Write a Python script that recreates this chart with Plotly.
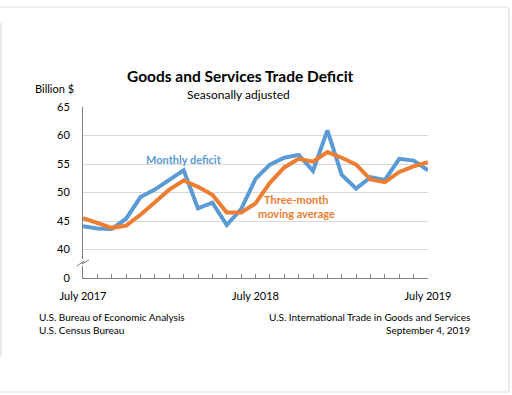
import plotly.graph_objects as go

months = ["Jul 2017","Aug 2017","Sep 2017","Oct 2017","Nov 2017","Dec 2017",
          "Jan 2018","Feb 2018","Mar 2018","Apr 2018","May 2018","Jun 2018",
          "Jul 2018","Aug 2018","Sep 2018","Oct 2018","Nov 2018","Dec 2018",
          "Jan 2019","Feb 2019","Mar 2019","Apr 2019","May 2019","Jun 2019","Jul 2019"]
monthly = [44.1, 43.7, 43.6, 45.4, 49.2, 50.5, 52.2, 53.9, 47.2, 48.2, 44.3, 47.1,
           52.4, 54.9, 56.1, 56.6, 53.8, 60.9, 53.1, 50.7, 52.7, 52.2, 55.9, 55.6, 53.9]
avg3 = [45.5, 44.7, 43.8, 44.2, 46.1, 48.3, 50.5, 52.1, 51.0, 49.6, 46.5, 46.5,
        48.1, 51.7, 54.4, 55.9, 55.4, 57.1, 56.1, 54.9, 52.3, 51.8, 53.6, 54.6, 55.3]
ytick_vals = [35, 40, 45, 50, 55, 60, 65]
ytick_text = ["0", "40", "45", "50", "55", "60", "65"]
xtick_text = ["July 2017" if m == "Jul 2017" else "July 2018" if m == "Jul 2018"
              else "July 2019" if m == "Jul 2019" else "" for m in months]

W, H = 512, 395
L, R, T, B = 83, 428, 107, 278
def px(x):
    return (x - L) / (R - L)
def py(y):
    return (B - y) / (B - T)

BLUE = "#5B9BD5"
ORANGE = "#ED7D31"
FONT = "Lato"

fig = go.Figure()
fig.add_trace(go.Scatter(x=months, y=monthly, mode="lines",
                         line=dict(color=BLUE, width=4), name="Monthly deficit"))
fig.add_trace(go.Scatter(x=months, y=avg3, mode="lines",
                         line=dict(color=ORANGE, width=4), name="Three-month moving average"))

fig.update_layout(
    width=W, height=H,
    margin=dict(l=L, r=W - R, t=T, b=H - B),
    paper_bgcolor="white", plot_bgcolor="white",
    showlegend=False,
    font=dict(family=FONT, size=11, color="black"),
)
fig.update_xaxes(type="category", range=[0, 24], tickvals=months, ticktext=xtick_text,
                 ticks="inside", ticklen=4, tickcolor="#808080", showline=True,
                 linecolor="#808080", linewidth=1, showgrid=False,
                 tickfont=dict(family=FONT, size=11), ticklabelstandoff=8)
fig.update_yaxes(range=[35, 65], tickvals=ytick_vals, ticktext=ytick_text,
                 showgrid=True, gridcolor="#D9D9D9", gridwidth=1,
                 showline=True, linecolor="#808080", linewidth=1, ticks="",
                 tickfont=dict(family=FONT, size=11), ticklabelstandoff=10,
                 zeroline=False)

shapes = []
# axis break: white gap + zigzag
shapes.append(dict(type="rect", xref="paper", yref="paper", x0=px(80), x1=px(86),
                   y0=py(266), y1=py(259), fillcolor="white", line=dict(width=0), layer="above"))
shapes.append(dict(type="path", xref="paper", yref="paper",
                   path=f"M {px(77)} {py(266)} L {px(84)} {py(261)} L {px(82)} {py(264)} L {px(89)} {py(260)}",
                   line=dict(color="#808080", width=1), layer="above"))
# frame lines
frame = "#DDDDDD"
shapes.append(dict(type="path", xref="paper", yref="paper",
                   path=f"M {px(0)} {py(7)} L {px(505)} {py(7)} Q {px(509)} {py(7)} {px(509)} {py(11)} L {px(509)} {py(392)} L {px(0)} {py(392)}",
                   line=dict(color=frame, width=1.2), layer="above"))
shapes.append(dict(type="line", xref="paper", yref="paper", x0=px(1), x1=px(1),
                   y0=py(23), y1=py(356), line=dict(color=frame, width=1.2)))
fig.update_layout(shapes=shapes)

ann = []
def add(text, x, y, size=11, color="black", xanchor="center", bold=False):
    ann.append(dict(text=f"<b>{text}</b>" if bold else text, x=px(x), y=py(y),
                    xref="paper", yref="paper", showarrow=False, xanchor=xanchor,
                    yanchor="middle", font=dict(family=FONT, size=size, color=color)))
add("Goods and Services Trade Deficit", 240, 76, size=15.5, bold=True)
add("Seasonally adjusted", 238, 94, size=12)
add("Billion $", 33, 88, size=11, xanchor="left")
add("Monthly deficit", 184, 159, size=11, color=BLUE, bold=True)
add("Three-month", 296, 199, size=11, color=ORANGE, bold=True)
add("moving average", 296, 213, size=11, color=ORANGE, bold=True)
add("U.S. Bureau of Economic Analysis", 37, 317, size=10, xanchor="left")
add("U.S. Census Bureau", 37, 330, size=10, xanchor="left")
add("U.S. International Trade in Goods and Services", 472, 317, size=10, xanchor="right")
add("September 4, 2019", 472, 330, size=10, xanchor="right")
fig.update_layout(annotations=ann)

fig.write_html("out.html", config={"displayModeBar": False},
               post_script="document.body.style.margin='0px';")
